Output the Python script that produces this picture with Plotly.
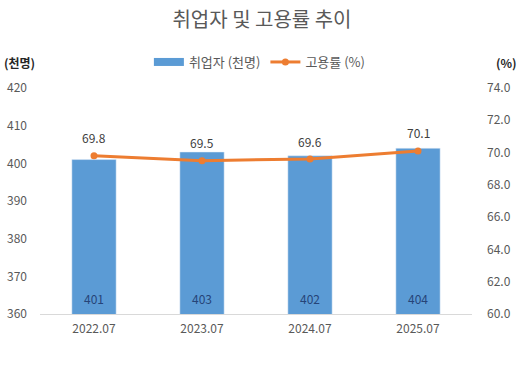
import plotly.graph_objects as go

categories = ["2022.07", "2023.07", "2024.07", "2025.07"]
employed = [401, 403, 402, 404]
rate = [69.8, 69.5, 69.6, 70.1]
left_ticks = [360, 370, 380, 390, 400, 410, 420]
right_ticks = [60, 62, 64, 66, 68, 70, 72, 74]

FONT = "Noto Sans CJK KR"
GRAY = "#595959"
BLUE = "#5B9BD5"
ORANGE = "#ED7D31"

fig = go.Figure()
fig.add_trace(go.Bar(
    x=categories, y=employed, name="취업자 (천명)",
    marker_color=BLUE, width=0.41, showlegend=False,
    yaxis="y",
))
# legend stand-in for the bar series (wide rectangle swatch)
fig.add_trace(go.Scatter(
    x=[categories[0]], y=[None], mode="lines", name="취업자 (천명)",
    line=dict(color=BLUE, width=8), yaxis="y", hoverinfo="skip",
))
fig.add_trace(go.Scatter(
    x=categories, y=rate, name="고용률 (%)", mode="lines+markers",
    line=dict(color=ORANGE, width=3), marker=dict(size=7, color=ORANGE),
    yaxis="y2",
))

annotations = []
# bar value labels near the bar bottoms (x given as category index)
for i, v in enumerate(employed):
    annotations.append(dict(x=i, y=left_ticks[0], xref="x", yref="y", text=str(v),
                            showarrow=False, yshift=16, yanchor="middle",
                            font=dict(size=12, color="#264478", family=FONT)))
# rate labels above the line points
for i, v in enumerate(rate):
    annotations.append(dict(x=i, y=v, xref="x", yref="y2", text=f"{v:.1f}",
                            showarrow=False, yshift=18, yanchor="middle",
                            font=dict(size=12, color="#404040", family=FONT)))
annotations += [
    dict(text="<b>(천명)</b>", xref="paper", yref="paper", x=-0.088, y=1.115,
         xanchor="left", yanchor="middle", showarrow=False,
         font=dict(size=12, color="#262626", family=FONT)),
    dict(text="<b>(%)</b>", xref="paper", yref="paper", x=1.05, y=1.115,
         xanchor="left", yanchor="middle", showarrow=False,
         font=dict(size=12, color="#262626", family=FONT)),
]

fig.update_layout(
    width=524, height=370,
    margin=dict(l=40, r=52, t=88, b=56, autoexpand=False),
    paper_bgcolor="white", plot_bgcolor="white",
    font=dict(family=FONT, color=GRAY, size=12),
    title=dict(text="취업자 및 고용률 추이", x=0.5, xanchor="center", y=0.945, yanchor="middle",
               font=dict(size=20, color=GRAY, family=FONT)),
    legend=dict(orientation="h", x=0.509, xanchor="center", y=1.115, yanchor="middle",
                font=dict(size=13, color=GRAY, family=FONT), traceorder="normal",
                itemwidth=30),
    showlegend=True,
    xaxis=dict(type="category", categoryorder="array", categoryarray=categories,
               range=[-0.5, len(categories) - 0.5],
               showgrid=False, showline=True, linecolor="#D9D9D9", linewidth=1,
               ticks="", tickfont=dict(size=12, color=GRAY), automargin=False,
               ticklabelstandoff=4),
    yaxis=dict(range=[360, 420], tickvals=left_ticks, showgrid=False, zeroline=False,
               showline=False, ticks="", ticklabelstandoff=12, automargin=False,
               tickfont=dict(size=12, color=GRAY)),
    yaxis2=dict(range=[60, 74], tickvals=right_ticks, tickformat=".1f", overlaying="y",
                side="right", showgrid=False, zeroline=False, showline=False, ticks="",
                ticklabelstandoff=14, automargin=False,
                tickfont=dict(size=12, color=GRAY)),
    annotations=annotations,
)

fig.write_html("out.html", config={"displayModeBar": False},
               post_script="document.body.style.margin='0';")
